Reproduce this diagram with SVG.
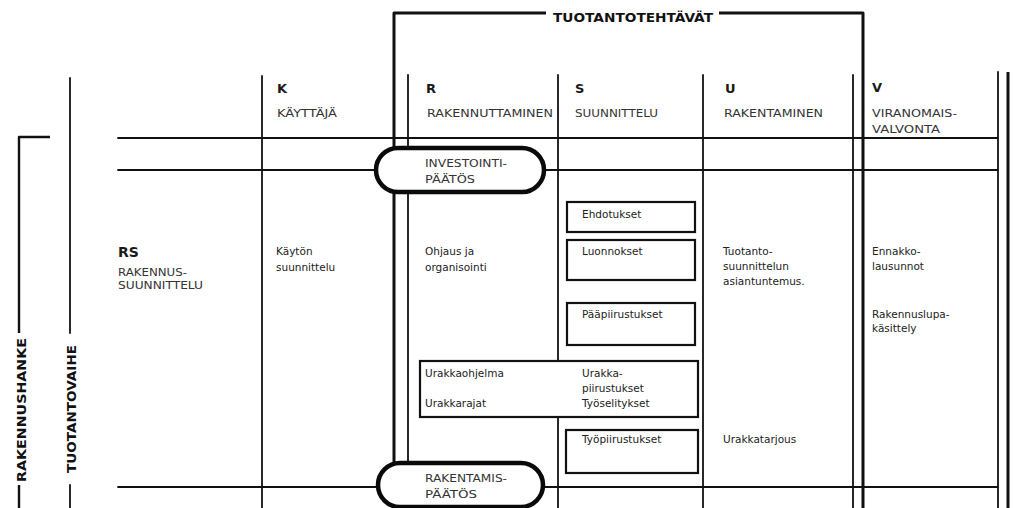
<svg xmlns="http://www.w3.org/2000/svg" width="1013" height="508" viewBox="0 0 1013 508">
  <style>
    .thin { stroke: #111; stroke-width: 1.8; fill: none; stroke-linecap: round; }
    .thick { stroke: #111; stroke-width: 3; fill: none; stroke-linejoin: round; }
    .pill { stroke: #0a0a0a; stroke-width: 4.5; fill: #fff; }
    .box { stroke: #111; stroke-width: 2.2; fill: #fff; }
    .letter { font-family: "DejaVu Sans", sans-serif; font-weight: bold; font-size: 13px; fill: #1a1a1a; }
    .caps { font-family: "DejaVu Sans", sans-serif; font-size: 10px; fill: #333; }
    .body { font-family: "DejaVu Sans", sans-serif; font-size: 10.5px; fill: #222; }
    .side { font-family: "DejaVu Sans", sans-serif; font-weight: bold; font-size: 13px; fill: #111; }
    .title { font-family: "DejaVu Sans", sans-serif; font-weight: bold; font-size: 12px; fill: #111; }
  </style>
  <rect width="1013" height="508" fill="#fff"/>

  <!-- grid and brackets -->
  <g id="connectors">
    <!-- production tasks bracket -->
    <path class="thick" d="M394,462 V13 H546"/>
    <path class="thick" d="M719,13 H863 V508"/>
    <!-- column dividers -->
    <line class="thin" x1="262" y1="76" x2="262" y2="508"/>
    <line class="thin" x1="408" y1="75" x2="408" y2="462"/>
    <line class="thin" x1="558" y1="75" x2="558" y2="508"/>
    <line class="thin" x1="703" y1="75" x2="703" y2="508"/>
    <line class="thin" x1="853" y1="75" x2="853" y2="508"/>
    <line class="thin" x1="998" y1="72" x2="998" y2="508"/>
    <line class="thick" x1="1008" y1="72" x2="1008" y2="508"/>
    <!-- row dividers -->
    <line class="thin" x1="118" y1="138" x2="998" y2="138"/>
    <line class="thin" x1="118" y1="170" x2="998" y2="170"/>
    <line class="thin" x1="118" y1="487" x2="998" y2="487"/>
    <!-- phase brackets on the left -->
    <path class="thin" d="M70,78 V333 M70,485 V508"/>
    <path class="thick" style="stroke-width:2.4" d="M50,137 H19 V333 M19,485 V508"/>
  </g>

  <!-- bracket titles -->
  <g id="labels">
    <text class="title" x="553" y="22" textLength="160" lengthAdjust="spacingAndGlyphs">TUOTANTOTEHTÄVÄT</text>
    <text class="side" transform="translate(26,482) rotate(-90)" textLength="144" lengthAdjust="spacingAndGlyphs">RAKENNUSHANKE</text>
    <text class="side" transform="translate(76,473) rotate(-90)" textLength="128" lengthAdjust="spacingAndGlyphs">TUOTANTOVAIHE</text>
  </g>

  <!-- column headers -->
  <g id="col-k">
    <text class="letter" x="277" y="93">K</text>
    <text class="caps" x="277" y="117" textLength="60" lengthAdjust="spacingAndGlyphs">KÄYTTÄJÄ</text>
  </g>
  <g id="col-r">
    <text class="letter" x="426" y="93">R</text>
    <text class="caps" x="427" y="117" textLength="126" lengthAdjust="spacingAndGlyphs">RAKENNUTTAMINEN</text>
  </g>
  <g id="col-s">
    <text class="letter" x="575" y="93">S</text>
    <text class="caps" x="575" y="117" textLength="83" lengthAdjust="spacingAndGlyphs">SUUNNITTELU</text>
  </g>
  <g id="col-u">
    <text class="letter" x="725" y="93">U</text>
    <text class="caps" x="724" y="117" textLength="99" lengthAdjust="spacingAndGlyphs">RAKENTAMINEN</text>
  </g>
  <g id="col-v">
    <text class="letter" x="872" y="92">V</text>
    <text class="caps" x="872" y="117" textLength="85" lengthAdjust="spacingAndGlyphs">VIRANOMAIS-</text>
    <text class="caps" x="872" y="133" textLength="68" lengthAdjust="spacingAndGlyphs">VALVONTA</text>
  </g>

  <!-- row header -->
  <g id="row-rs">
    <text class="letter" style="font-size:14px" x="118" y="257">RS</text>
    <text class="caps" x="118" y="276" textLength="69" lengthAdjust="spacingAndGlyphs">RAKENNUS-</text>
    <text class="caps" x="118" y="289" textLength="85" lengthAdjust="spacingAndGlyphs">SUUNNITTELU</text>
  </g>

  <!-- decision points -->
  <g id="investointipaatos">
    <rect class="pill" x="376" y="148" width="168" height="44" rx="22"/>
    <text class="caps" x="425" y="167" textLength="82" lengthAdjust="spacingAndGlyphs">INVESTOINTI-</text>
    <text class="caps" x="425" y="183" textLength="50" lengthAdjust="spacingAndGlyphs">PÄÄTÖS</text>
  </g>
  <g id="rakentamispaatos">
    <rect class="pill" x="378" y="463" width="165" height="44" rx="22"/>
    <text class="caps" x="425" y="482" textLength="82" lengthAdjust="spacingAndGlyphs">RAKENTAMIS-</text>
    <text class="caps" x="425" y="498" textLength="52" lengthAdjust="spacingAndGlyphs">PÄÄTÖS</text>
  </g>

  <!-- column contents -->
  <g id="kaytto">
    <text class="body" x="276" y="255">Käytön</text>
    <text class="body" x="276" y="271">suunnittelu</text>
  </g>
  <g id="ohjaus">
    <text class="body" x="425" y="255">Ohjaus ja</text>
    <text class="body" x="425" y="271">organisointi</text>
  </g>
  <g id="ehdotukset">
    <rect class="box" x="567" y="202" width="128" height="30"/>
    <text class="body" x="582" y="218">Ehdotukset</text>
  </g>
  <g id="luonnokset">
    <rect class="box" x="567" y="240" width="128" height="40"/>
    <text class="body" x="582" y="255">Luonnokset</text>
  </g>
  <g id="paapiirustukset">
    <rect class="box" x="567" y="303" width="128" height="42"/>
    <text class="body" x="582" y="318">Pääpiirustukset</text>
  </g>
  <g id="urakka">
    <rect class="box" x="420" y="361" width="278" height="56"/>
    <text class="body" x="425" y="377">Urakkaohjelma</text>
    <text class="body" x="425" y="407">Urakkarajat</text>
    <text class="body" x="582" y="377">Urakka-</text>
    <text class="body" x="582" y="392">piirustukset</text>
    <text class="body" x="582" y="407">Työselitykset</text>
  </g>
  <g id="tyopiirustukset">
    <rect class="box" x="566" y="430" width="132" height="43"/>
    <text class="body" x="582" y="443">Työpiirustukset</text>
  </g>
  <g id="tuotantosuunnittelu">
    <text class="body" x="723" y="255">Tuotanto-</text>
    <text class="body" x="723" y="270">suunnittelun</text>
    <text class="body" x="723" y="285">asiantuntemus.</text>
  </g>
  <g id="urakkatarjous">
    <text class="body" x="723" y="443">Urakkatarjous</text>
  </g>
  <g id="viranomainen">
    <text class="body" x="872" y="255">Ennakko-</text>
    <text class="body" x="872" y="270">lausunnot</text>
    <text class="body" x="872" y="318">Rakennuslupa-</text>
    <text class="body" x="872" y="332">käsittely</text>
  </g>
</svg>
